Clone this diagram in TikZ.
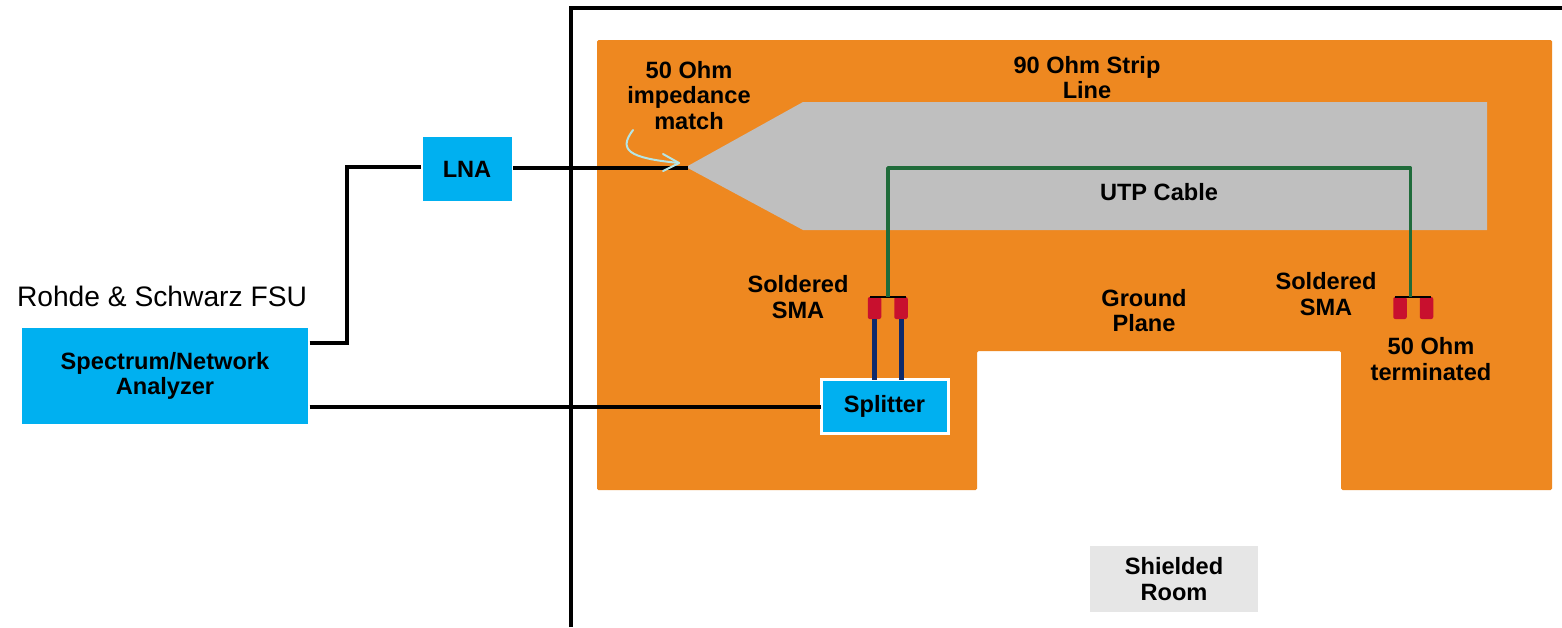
\documentclass[tikz,border=0pt]{standalone}
\usepackage{fontspec}
\setmainfont{Liberation Sans}
\definecolor{plane}{HTML}{EE8820}
\definecolor{strip}{HTML}{BFBFBF}
\definecolor{boxblue}{HTML}{00B0F0}
\definecolor{utp}{HTML}{1F6B3A}
\definecolor{navy}{HTML}{0F2A6B}
\definecolor{sma}{HTML}{C8102E}
\definecolor{hint}{HTML}{B5E5E5}
\definecolor{roomgrey}{HTML}{E6E6E6}
\tikzset{
 lbl/.style={font=\fontsize{23.6}{25.5}\selectfont\bfseries,align=center,text=black,inner sep=0pt},
 bluebox/.style={fill=boxblue,draw=white,line width=3pt,lbl,anchor=center,outer sep=0pt},
 wire/.style={draw=black,line width=4pt},
 cable/.style={draw=utp,line width=3.5pt},
 coax/.style={draw=navy,line width=5pt},
 connbar/.style={draw=black,line width=2pt},
 smabox/.style={fill=sma,rounded corners=2pt,minimum width=13.5pt,minimum height=22pt,inner sep=0pt,draw=none,outer sep=0pt},
}
\begin{document}
\begin{tikzpicture}[x=1pt,y=-1pt]
\useasboundingbox (0,0) rectangle (1562,627);
\fill[white] (0,0) rectangle (1562,627);
% shielded room
\draw[line width=4pt] (571,627) -- (571,8) -- (1562,8);
% ground plane
\fill[plane,rounded corners=1.5pt] (597,40) -- (1552,40) -- (1552,490) -- (1341,490) -- (1341,351) -- (977,351) -- (977,490) -- (597,490) -- cycle;
% strip line
\fill[strip] (686,167) -- (803,102) -- (1487,102) -- (1487,230) -- (803,230) -- cycle;
% wires first, so that the white box borders sit over their ends
\coordinate (tip) at (688,168);
\node[bluebox,minimum width=289pt,minimum height=99pt] (fsu) at (165,376) {Spectrum/Network\\Analyzer};
\node[bluebox,minimum width=92pt,minimum height=67pt] (lna) at (467,169) {LNA};
\node[bluebox,minimum width=127pt,minimum height=54pt] (split) at (884.5,406.5) {Splitter};
\node[smabox] (s1) at (874.5,308) {};
\node[smabox] (s2) at (901,308) {};
\node[smabox] (s3) at (1400,308) {};
\node[smabox] (s4) at (1426.5,308) {};
% wires
\draw[wire] (fsu.east |- 0,343) -- (347,343) -- (347,167) -- (lna.west |- 0,167);
\draw[wire] (lna.east |- tip) -- (tip);
\draw[wire] (fsu.east |- 0,407) -- (split.west |- 0,407);
% coax
\draw[coax] (s1.south) -- (s1.south |- split.north);
\draw[coax] (s2.south) -- (s2.south |- split.north);
% connector bars
\coordinate (j1) at (888,296.5);
\coordinate (j2) at (1410.5,296.5);
\draw[connbar] (870,296.5) -- (906,296.5);
\draw[connbar] (1395,296.5) -- (1431,296.5);
% UTP
\draw[cable,line join=round] (j1) -- (888,168) -- (1410.5,168) -- (j2);
% impedance hint arrow
\coordinate (hs) at (633,130);
\coordinate (he) at (679,163);
\draw[hint,line width=2pt,line cap=round,line join=round] (hs) .. controls (618,150) and (628,158) .. (he);
\draw[hint,line width=2pt,line cap=round,line join=round] (663,154) -- (679,163) -- (663,171);
% labels
\node[inner sep=0pt,font=\fontsize{28.2}{32}\selectfont] (rs) at (162,296) {Rohde \& Schwarz FSU};
\node[lbl] (l50) at (689,95.5) {50 Ohm\\impedance\\match};
\node[lbl] (l90) at (1087,77.5) {90 Ohm Strip\\Line};
\node[lbl] (lutp) at (1159,192) {UTP Cable};
\node[lbl] (ls1) at (798,297) {Soldered\\SMA};
\node[lbl] (ls2) at (1326,294) {Soldered\\SMA};
\node[lbl] (lgp) at (1144,310.5) {Ground\\Plane};
\node[lbl] (lterm) at (1431,359) {50 Ohm\\terminated};
\node[lbl,fill=roomgrey,minimum width=168pt,minimum height=66pt] (lroom) at (1174,579) {Shielded\\Room};
\end{tikzpicture}
\end{document}
